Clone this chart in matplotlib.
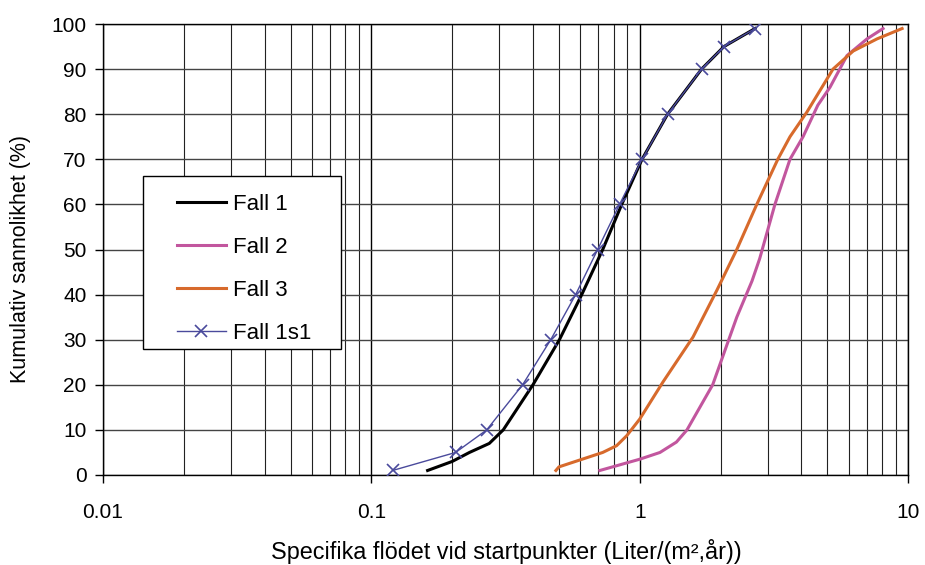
import numpy as np
import matplotlib.pyplot as plt
from matplotlib.patches import Rectangle
from matplotlib.ticker import FixedLocator, NullFormatter

plt.rcParams['font.family'] = ['Liberation Sans', 'DejaVu Sans']

# Fall 1
x1 = [0.162, 0.200, 0.232, 0.275, 0.31, 0.40, 0.502, 0.608, 0.728, 0.857, 1.02, 1.27, 1.70, 2.06, 2.69]
y1 = [1, 3, 5, 7, 10, 20, 30, 40, 50, 60, 70, 80, 90, 95, 99]

# Fall 2
x2 = [0.71, 1.0, 1.19, 1.37, 1.50, 1.87, 2.30, 2.62, 2.80, 3.19, 3.63, 4.06, 4.61, 5.12, 5.92, 7.03, 8.07]
y2 = [1, 3.5, 5, 7.3, 10, 20, 35, 43, 48, 60, 70, 75, 82, 86, 93, 96.7, 99]

# Fall 3
x3 = [0.487, 0.50, 0.728, 0.82, 0.894, 1.0, 1.22, 1.58, 1.94, 2.30, 2.73, 3.27, 3.63, 4.2, 5.25, 6.24, 7.66, 9.5]
y3 = [1, 1.8, 5, 6.5, 8.7, 12.4, 20.6, 30.6, 41, 50, 60, 70, 75, 80.5, 90, 94, 96.7, 99]

# Fall 1s1
x4 = [0.120, 0.206, 0.269, 0.366, 0.466, 0.577, 0.697, 0.841, 1.02, 1.27, 1.70, 2.06, 2.69]
y4 = [1, 5, 10, 20, 30, 40, 50, 60, 70, 80, 90, 95, 99]

W, H = 925, 565
fig = plt.figure(figsize=(W / 100, H / 100), dpi=100)
ax = fig.add_axes([0.1114, 0.1593, 0.8703, 0.7982])

ax.plot(x1, y1, color='black', lw=2.2, label='Fall 1', zorder=3)
ax.plot(x2, y2, color='#C2569E', lw=2.2, label='Fall 2', zorder=3)
ax.plot(x3, y3, color='#D76A2C', lw=2.2, label='Fall 3', zorder=3)
ax.plot(x4, y4, color='#4A4A9C', lw=1.0, marker='x', ms=8, mew=1.2, label='Fall 1s1', zorder=4)

ax.set_xscale('log')
ax.set_xlim(0.01, 10)
ax.set_ylim(0, 100)
ax.set_yticks(np.arange(0, 101, 10))
ax.set_xticks([0.01, 0.1, 1, 10])
ax.set_xticklabels(['0.01', '0.1', '1', '10'])
minor = [m * d for d in [0.01, 0.1, 1] for m in range(2, 10)]
ax.xaxis.set_minor_locator(FixedLocator(minor))
ax.xaxis.set_minor_formatter(NullFormatter())

ax.grid(True, which='major', axis='x', color='black', lw=1.0)
ax.grid(True, which='minor', axis='x', color='#222222', lw=0.8)
ax.grid(True, which='major', axis='y', color='#444444', lw=1.0)
ax.tick_params(axis='both', which='major', direction='out', length=6, labelsize=15, width=1)
ax.tick_params(axis='x', which='minor', length=0)
ax.tick_params(axis='x', pad=14)
ax.tick_params(axis='y', pad=6)
for s in ax.spines.values():
    s.set_color('black')
    s.set_linewidth(1)

ax.set_xlabel('Specifika flödet vid startpunkter (Liter/(m²,år))', fontsize=16.8)
ax.set_ylabel('Kumulativ sannolikhet (%)', fontsize=15.5)
ax.xaxis.set_label_coords(0.5006, -0.141)
ax.yaxis.set_label_coords(-0.089, 0.48)

# legend frame drawn separately (wider side padding than top/bottom)
fig.patches.append(Rectangle((143 / W, 1 - 349 / H), 198 / W, 173 / H,
                             transform=fig.transFigure, facecolor='white',
                             edgecolor='black', lw=1, zorder=5))
leg = fig.legend(loc='upper left', bbox_to_anchor=(177 / W, 1 - 194 / H), fontsize=16,
                 frameon=False, handlelength=2.2, labelspacing=0.99, borderpad=0,
                 handletextpad=0.3, borderaxespad=0)
leg.set_zorder(6)

fig.savefig('out.png', dpi=100)
